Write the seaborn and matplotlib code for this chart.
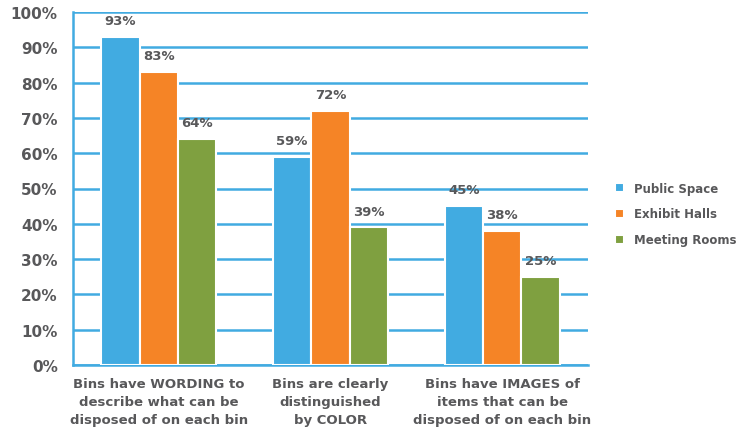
import matplotlib
matplotlib.use("Agg")
import matplotlib.pyplot as plt
import seaborn as sns
import pandas as pd
from matplotlib.ticker import FixedLocator

categories = [
    "Bins have WORDING to\ndescribe what can be\ndisposed of on each bin",
    "Bins are clearly\ndistinguished\nby COLOR",
    "Bins have IMAGES of\nitems that can be\ndisposed of on each bin",
]
series = ["Public Space", "Exhibit Halls", "Meeting Rooms"]
public_space = [93, 59, 45]
exhibit_halls = [83, 72, 38]
meeting_rooms = [64, 39, 25]
y_ticks = list(range(0, 101, 10))
y_tick_labels = [f"{v}%" for v in y_ticks]

colors = ["#41ABE1", "#F58426", "#7FA040"]
blue = "#41ABE1"
text_col = "#58585A"

rows = []
for name, vals in zip(series, [public_space, exhibit_halls, meeting_rooms]):
    for cat, v in zip(categories, vals):
        rows.append({"category": cat, "series": name, "value": v})
df = pd.DataFrame(rows)

sns.set_theme(style="white")
plt.rcParams["font.family"] = ["DejaVu Sans"]

fig = plt.figure(figsize=(7.48, 4.35), dpi=100)
ax = fig.add_axes([73 / 748, (435 - 366) / 435, (588 - 73) / 748, (366 - 13) / 435])

sns.barplot(data=df, x="category", y="value", hue="series", order=categories,
            hue_order=series, palette=colors, width=0.67, saturation=1,
            edgecolor="white", linewidth=1.5, errorbar=None, ax=ax, zorder=3)

ax.set_xlim(-0.5, 2.5)
ax.set_ylim(0, 100)
ax.set_yticks(y_ticks)
ax.set_yticklabels(y_tick_labels)
ax.yaxis.grid(True, color=blue, linewidth=1.8)
ax.xaxis.grid(False)
ax.set_axisbelow(True)

ax.tick_params(axis="y", length=6, width=1.8, color=blue, pad=5,
               labelsize=11, labelcolor=text_col)
for lbl in ax.get_yticklabels():
    lbl.set_fontweight("bold")

ax.tick_params(axis="x", which="major", length=0, pad=9,
               labelsize=9.5, labelcolor=text_col)
for lbl in ax.get_xticklabels():
    lbl.set_fontweight("bold")
    lbl.set_linespacing(1.5)
ax.xaxis.set_minor_locator(FixedLocator([-0.5, 0.5, 1.5, 2.5]))
ax.tick_params(axis="x", which="minor", length=7, width=1.8, color=blue)

for side in ["top", "right"]:
    ax.spines[side].set_visible(False)
for side in ["left", "bottom"]:
    ax.spines[side].set_color(blue)
    ax.spines[side].set_linewidth(1.8)
ax.set_xlabel("")
ax.set_ylabel("")

for cont in ax.containers:
    ax.bar_label(cont, labels=[f"{int(v)}%" for v in cont.datavalues],
                 padding=7, fontsize=9.5, fontweight="bold", color=text_col)

handles, labels = ax.get_legend_handles_labels()
ax.legend_.remove()
fig.legend(handles, labels, loc="center left", bbox_to_anchor=(604 / 748, 1 - 215 / 435),
           frameon=False, handlelength=0.8, handleheight=0.8, handletextpad=0.8,
           labelspacing=1.1, prop={"size": 8.5, "weight": "bold"}, labelcolor=text_col)

fig.savefig("out.png", dpi=100, facecolor="white")
